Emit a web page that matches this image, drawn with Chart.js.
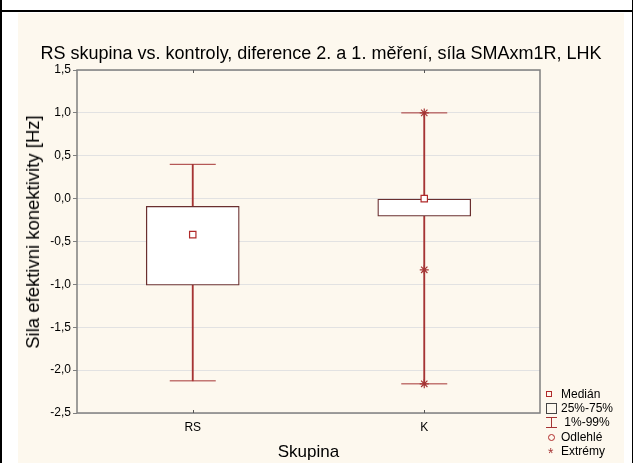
<!DOCTYPE html>
<html>
<head>
<meta charset="utf-8">
<title>RS skupina vs. kontroly</title>
<script src="https://cdn.jsdelivr.net/npm/chart.js@4/dist/chart.umd.min.js"></script>
<style>
  html, body { margin: 0; padding: 0; width: 633px; height: 463px; overflow: hidden; background: #fff;
    font-family: "Liberation Sans", Arial, sans-serif; }
  #frameTop { position: absolute; left: 0; top: 10px; width: 633px; height: 2px; background: #000; }
  #frameLeft { position: absolute; left: 0; top: 0; width: 2px; height: 463px; background: #000; }
  #frameRight { position: absolute; left: 632px; top: 0; width: 1px; height: 463px; background: #000; }
  #panel { position: absolute; left: 18px; top: 13px; width: 606px; height: 450px; background: #fdf8ee; }
  #chartBox { position: absolute; left: 0; top: 0; width: 606px; height: 450px; }
  #yTitle { position: absolute; left: 15px; top: 219px; width: 0; height: 0; }
  #yTitle span { position: absolute; left: 0; top: 0; transform: translate(-50%, -50%) rotate(-90deg);
    white-space: nowrap; font-size: 18.5px; line-height: 22px; color: #000; }
  #legend { position: absolute; left: 521px; top: 374px; width: 85px; height: 76px; font-size: 12px; color: #000; }
  .row { position: absolute; left: 0; height: 14px; line-height: 14px; white-space: pre; }
  .sym { position: absolute; box-sizing: border-box; }
  .txt { position: absolute; top: 0; }
</style>
</head>
<body>
<div id="frameTop"></div>
<div id="frameLeft"></div>
<div id="frameRight"></div>
<div id="panel">
  <div id="chartBox"><canvas id="chart"></canvas></div>
  <div id="yTitle"><span>Sila efektivni konektivity [Hz]</span></div>
  <div id="legend"></div>
</div>
<script>
// Groups on the x axis
const categories = ['RS', 'K'];

// Box plot statistics per group (difference of 2nd and 1st measurement, Hz)
const medians      = [-0.42, 0.0];
const quartileLow  = [-1.01, -0.205];
const quartileHigh = [-0.09, 0.0];
const whiskerLow   = [-2.125, -2.16];
const whiskerHigh  = [0.40, 1.0];

// Extreme values (group, value)
const extremeGroups = ['K', 'K', 'K'];
const extremeValues = [1.0, -0.83, -2.16];

// Y axis ticks and their labels (decimal comma)
const yTickValues = [-2.5, -2.0, -1.5, -1.0, -0.5, 0.0, 0.5, 1.0, 1.5];
const yTickLabels = ['-2,5', '-2,0', '-1,5', '-1,0', '-0,5', '0,0', '0,5', '1,0', '1,5'];

// Legend entries
const legendLabels = ['Medián', '25%-75%', ' 1%-99%', 'Odlehlé', 'Extrémy'];

const WHISKER = '#a53434';
const BOX = '#6a2f2f';
const MEDIAN = '#b02a2a';
const FONT = '"Liberation Sans", Arial, sans-serif';

// Plot frame and small category tick marks
const framePlugin = {
  id: 'frame',
  beforeDatasetsDraw(chart) {
    const { ctx, chartArea: a, scales } = chart;
    ctx.save();
    ctx.strokeStyle = '#7f7f7f';
    ctx.lineWidth = 1.5;
    ctx.strokeRect(a.left, a.top, a.right - a.left, a.bottom - a.top);
    ctx.lineWidth = 1;
    ctx.strokeStyle = '#555';
    categories.forEach(c => {
      const x = Math.round(scales.x.getPixelForValue(c)) + 0.5;
      ctx.beginPath();
      ctx.moveTo(x, a.bottom); ctx.lineTo(x, a.bottom - 3);
      ctx.moveTo(x, a.top); ctx.lineTo(x, a.top + 3);
      ctx.stroke();
    });
    ctx.restore();
  }
};

const capPoints = [];
categories.forEach((c, i) => {
  capPoints.push({ x: c, y: whiskerLow[i] });
  capPoints.push({ x: c, y: whiskerHigh[i] });
});

new Chart(document.getElementById('chart'), {
  type: 'bar',
  data: {
    labels: categories,
    datasets: [
      {
        label: 'whisker',
        type: 'bar',
        data: categories.map((c, i) => [whiskerLow[i], whiskerHigh[i]]),
        backgroundColor: WHISKER,
        borderWidth: 0,
        barThickness: 1.2,
        grouped: false,
        order: 5
      },
      {
        label: 'caps',
        type: 'line',
        showLine: false,
        data: capPoints,
        pointStyle: 'line',
        pointRadius: 23,
        pointBorderColor: WHISKER,
        pointBorderWidth: 1,
        order: 4
      },
      {
        label: 'box',
        type: 'bar',
        data: categories.map((c, i) => [quartileLow[i], quartileHigh[i]]),
        backgroundColor: '#ffffff',
        borderColor: BOX,
        borderWidth: 1.3,
        borderSkipped: false,
        barThickness: 93,
        grouped: false,
        order: 3
      },
      {
        label: 'median',
        type: 'line',
        showLine: false,
        data: categories.map((c, i) => ({ x: c, y: medians[i] })),
        pointStyle: 'rect',
        pointRadius: 4.5,
        pointBackgroundColor: '#ffffff',
        pointBorderColor: MEDIAN,
        pointBorderWidth: 1.2,
        order: 2
      },
      {
        label: 'extremes',
        type: 'line',
        showLine: false,
        data: extremeValues.map((v, i) => ({ x: extremeGroups[i], y: v })),
        pointStyle: 'star',
        pointRadius: 4.5,
        pointBorderColor: WHISKER,
        pointBorderWidth: 1.2,
        order: 1
      }
    ]
  },
  options: {
    responsive: true,
    maintainAspectRatio: false,
    animation: false,
    devicePixelRatio: 1,
    events: [],
    layout: { padding: 0 },
    plugins: {
      legend: { display: false },
      tooltip: { enabled: false },
      title: {
        display: true,
        text: 'RS skupina vs. kontroly, diference 2. a 1. měření, síla SMAxm1R, LHK',
        color: '#000',
        font: { family: FONT, size: 18, weight: 'normal' },
        padding: { top: 30, bottom: 5.4 }
      }
    },
    scales: {
      x: {
        type: 'category',
        offset: true,
        grid: { display: false, drawTicks: false },
        border: { display: false },
        ticks: { color: '#000', font: { family: FONT, size: 12 }, padding: 7 },
        title: { display: true, text: 'Skupina', color: '#000', font: { family: FONT, size: 17 }, padding: 0 },
        afterFit(scale) { scale.height = 50; }
      },
      y: {
        min: -2.5,
        max: 1.5,
        afterBuildTicks(scale) { scale.ticks = yTickValues.map(v => ({ value: v })); },
        ticks: {
          color: '#000',
          font: { family: FONT, size: 12 },
          padding: 2,
          callback(value) {
            const i = yTickValues.indexOf(value);
            return i >= 0 ? yTickLabels[i] : '';
          }
        },
        grid: { color: '#e2e2e2', lineWidth: 1, tickColor: '#7f7f7f', tickLength: 4 },
        border: { display: false },
        title: { display: false },
        afterFit(scale) { scale.width = 59; }
      },
      // empty right-hand strip that leaves room for the legend
      legendSpace: {
        type: 'linear',
        position: 'right',
        display: true,
        ticks: { display: false },
        grid: { display: false, drawTicks: false },
        border: { display: false },
        afterFit(scale) { scale.width = 84; }
      }
    }
  },
  plugins: [framePlugin]
});

// Legend with box plot symbols
const legend = document.getElementById('legend');
const rowTops = [0, 14, 28, 43, 57];
const symbolStyles = [
  'left:7px;top:4px;width:6px;height:6px;border:1px solid ' + MEDIAN + ';',
  'left:7px;top:2px;width:11px;height:11px;border:1px solid #444;',
  'left:7px;top:2px;width:11px;height:11px;',
  'left:9px;top:4px;width:7px;height:7px;border:1px solid ' + MEDIAN + ';border-radius:50%;',
  'left:9px;top:0px;width:9px;height:14px;'
];
legendLabels.forEach((text, i) => {
  const row = document.createElement('div');
  row.className = 'row';
  row.style.top = rowTops[i] + 'px';
  const sym = document.createElement('div');
  sym.className = 'sym';
  sym.style.cssText = symbolStyles[i];
  if (i === 2) {
    sym.innerHTML = '<div style="position:absolute;left:0;top:0;width:11px;height:1px;background:' + WHISKER + '"></div>' +
      '<div style="position:absolute;left:5px;top:0;width:1px;height:11px;background:' + WHISKER + '"></div>' +
      '<div style="position:absolute;left:0;top:10px;width:11px;height:1px;background:' + WHISKER + '"></div>';
  }
  if (i === 4) {
    sym.style.color = WHISKER;
    sym.style.fontSize = '14px';
    sym.style.lineHeight = '18px';
    sym.textContent = '*';
  }
  const t = document.createElement('span');
  t.className = 'txt';
  t.style.left = '22px';
  t.textContent = text;
  row.appendChild(sym);
  row.appendChild(t);
  legend.appendChild(row);
});
</script>
</body>
</html>
